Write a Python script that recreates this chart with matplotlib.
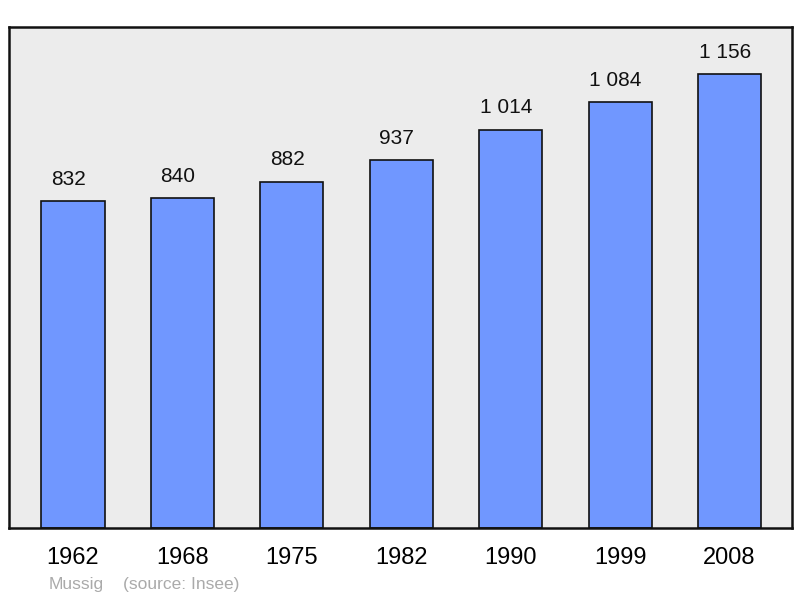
import matplotlib.pyplot as plt

plt.rcParams['font.family'] = ['Liberation Sans', 'DejaVu Sans']

years = ['1962', '1968', '1975', '1982', '1990', '1999', '2008']
population = [832, 840, 882, 937, 1014, 1084, 1156]
value_labels = ['832', '840', '882', '937', '1 014', '1 084', '1 156']

fig = plt.figure(figsize=(8, 5.98), dpi=100)
ax = fig.add_axes([9 / 800, 70 / 598, 783 / 800, 501 / 598])
ax.set_facecolor('#ececec')

x = range(len(years))
ax.bar(x, population, width=0.576, color='#7097ff', edgecolor='#111111',
       linewidth=1.2, zorder=2)

# value labels sit a bit left of bar centre in the original
for xi, v, lab in zip(x, population, value_labels):
    ax.annotate(lab, (xi, v), xytext=(-3.2, 9), textcoords='offset points',
                ha='center', va='bottom', fontsize=15, color='#111111')

ax.set_xlim(-0.585, 6.571)
ax.set_ylim(0, 1276)
ax.set_xticks(list(x))
ax.set_xticklabels(years, fontsize=17)
ax.tick_params(axis='x', length=0, pad=14)
ax.set_yticks([])
for s in ax.spines.values():
    s.set_linewidth(1.8)
    s.set_color('#111111')

fig.text(49 / 800, 1 - 584 / 598, 'Mussig', color='#aaaaaa', fontsize=12.5,
         va='center', ha='left')
fig.text(123 / 800, 1 - 584 / 598, '(source: Insee)', color='#aaaaaa',
         fontsize=12.5, va='center', ha='left')

fig.savefig('out.png', dpi=100)
